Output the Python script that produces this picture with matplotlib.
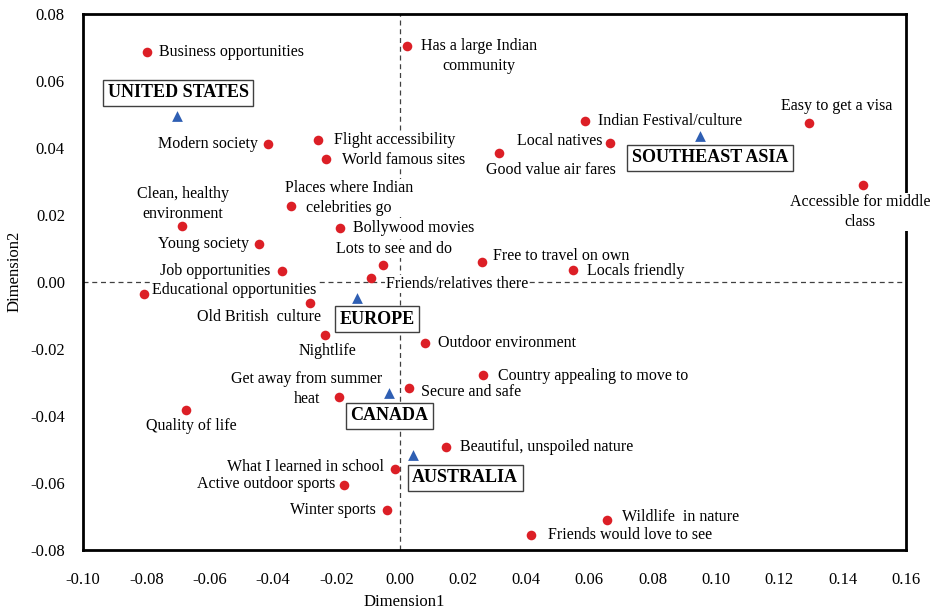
import matplotlib
matplotlib.use("Agg")
import matplotlib.pyplot as plt

plt.rcParams["font.family"] = ["Liberation Serif", "DejaVu Serif"]

# attribute points (dimension 1, dimension 2)
attr_labels = [
    "Business opportunities", "Has a large Indian\ncommunity", "Modern society",
    "Flight accessibility", "World famous sites", "Places where Indian\ncelebrities go",
    "Clean, healthy\nenvironment", "Bollywood movies", "Young society",
    "Lots to see and do", "Job opportunities", "Friends/relatives there",
    "Educational opportunities", "Old British  culture", "Nightlife",
    "Outdoor environment", "Country appealing to move to", "Secure and safe",
    "Get away from summer\nheat", "Quality of life", "Beautiful, unspoiled nature",
    "What I learned in school", "Active outdoor sports", "Winter sports",
    "Wildlife  in nature", "Friends would love to see", "Indian Festival/culture",
    "Local natives", "Good value air fares", "Easy to get a visa",
    "Accessible for middle\nclass", "Free to travel on own", "Locals friendly",
]
attr_x = [
    -0.0798, 0.0024, -0.0415, -0.0257, -0.0232, -0.0343, -0.0687, -0.0188, -0.0444,
    -0.0052, -0.0371, -0.0090, -0.0807, -0.0283, -0.0235, 0.0081, 0.0264, 0.0030,
    -0.0191, -0.0675, 0.0147, -0.0014, -0.0175, -0.0039, 0.0656, 0.0416, 0.0586,
    0.0665, 0.0315, 0.1294, 0.1465, 0.0261, 0.0548,
]
attr_y = [
    0.0687, 0.0704, 0.0412, 0.0424, 0.0367, 0.0227, 0.0167, 0.0161, 0.0113,
    0.0051, 0.0033, 0.0012, -0.0036, -0.0063, -0.0158, -0.0182, -0.0278, -0.0316,
    -0.0343, -0.0382, -0.0493, -0.0558, -0.0606, -0.0681, -0.0710, -0.0755, 0.0481,
    0.0415, 0.0385, 0.0475, 0.0290, 0.0060, 0.0036,
]

# destinations
dest_labels = ["UNITED STATES", "SOUTHEAST ASIA", "EUROPE", "CANADA", "AUSTRALIA"]
dest_x = [-0.0703, 0.0950, -0.0134, -0.0033, 0.0043]
dest_y = [0.0496, 0.0436, -0.0048, -0.0331, -0.0516]

# label placement: (dx px, dy px, ha)
attr_offsets = [
    (12, 0, "left"), (72, -10, "center"), (-10, 0, "right"),
    (16, 0, "left"), (16, -1, "left"), (58, 8, "center"),
    (1, 22, "center"), (13, 0, "left"), (-10, 0, "right"),
    (11, 16, "center"), (-12, 0, "right"), (15, -6, "left"),
    (8, 4, "left"), (11, -14, "right"), (2, -16, "center"),
    (13, 0, "left"), (15, -1, "left"), (12, -4, "left"),
    (-32, 8, "center"), (5, -16, "center"), (14, 0, "left"),
    (-11, 2, "right"), (-9, 1, "right"), (-11, 0, "right"),
    (15, 3, "left"), (17, 0, "left"), (13, 0, "left"),
    (-7, 2, "right"), (52, -17, "center"), (28, 17, "center"),
    (-3, -27, "center"), (11, 6, "left"), (14, -1, "left"),
]
dest_offsets = [(1, 23), (10, -22), (20, -21), (0, -23), (52, -23)]

fig = plt.figure(figsize=(9.34, 6.12), dpi=100)
ax = fig.add_axes([0.0889, 0.1013, 0.881, 0.8758])

ax.axhline(0, color="#404040", lw=0.9, ls=(0, (4, 3)), zorder=1)
ax.axvline(0, color="#404040", lw=0.9, ls=(0, (4, 3)), zorder=1)

ax.scatter(attr_x, attr_y, s=48, color="#dc1f26", zorder=6, linewidths=0)
ax.scatter(dest_x, dest_y, s=60, marker="^", color="#2f5fb3", zorder=6, linewidths=0)

for lab, x, y, (dx, dy, ha) in zip(attr_labels, attr_x, attr_y, attr_offsets):
    ax.annotate(lab, (x, y), xytext=(dx, dy), textcoords="offset pixels",
                ha=ha, va="center", multialignment="center", fontsize=11.5,
                linespacing=1.35, zorder=4, annotation_clip=False,
                bbox=dict(boxstyle="square,pad=0.05", fc="white", ec="none"))

for lab, x, y, (dx, dy) in zip(dest_labels, dest_x, dest_y, dest_offsets):
    ax.annotate(lab, (x, y), xytext=(dx, dy), textcoords="offset pixels",
                ha="center", va="center", fontsize=13, fontweight="bold",
                zorder=5,
                bbox=dict(boxstyle="square,pad=0.25", fc="white", ec="#404040", lw=1))

ax.set_xlim(-0.10, 0.16)
ax.set_ylim(-0.08, 0.08)
ax.set_xticks([-0.10 + 0.02 * i for i in range(14)])
ax.set_yticks([-0.08 + 0.02 * i for i in range(9)])
ax.set_xticklabels([f"{-0.10 + 0.02 * i:.2f}" for i in range(14)])
ax.set_yticklabels([f"{-0.08 + 0.02 * i:.2f}" for i in range(9)])
ax.tick_params(length=0, labelsize=12)
ax.tick_params(axis="x", pad=16)
ax.tick_params(axis="y", pad=13)
for sp in ax.spines.values():
    sp.set_linewidth(2)
    sp.set_color("black")

ax.set_xlabel("Dimension1", fontsize=12)
ax.xaxis.set_label_coords(0.39, -0.083)
ax.set_ylabel("Dimension2", fontsize=12)
ax.yaxis.set_label_coords(-0.073, 0.52)

fig.savefig("out.png", dpi=100)
